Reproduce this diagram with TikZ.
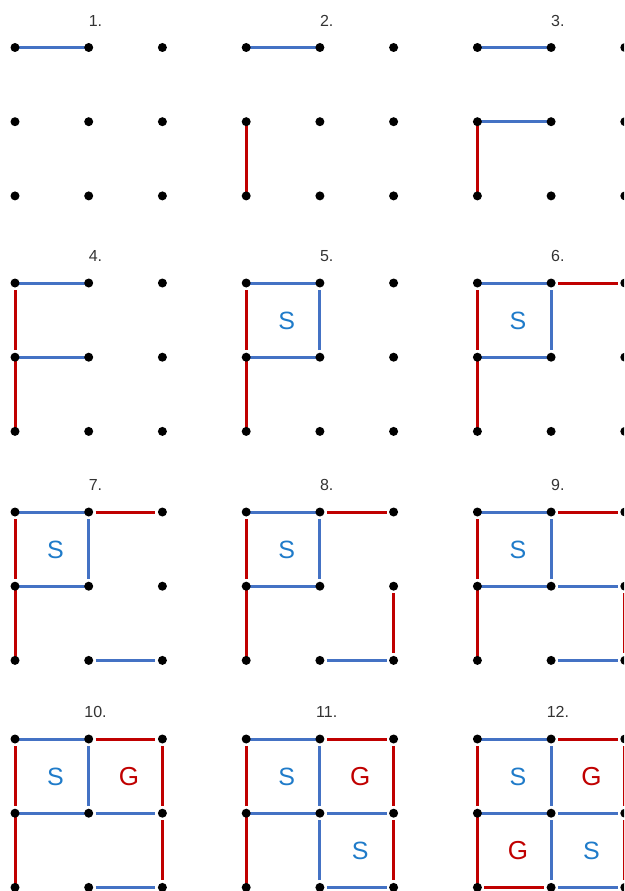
\documentclass[tikz,border=0pt]{standalone}
\usepackage{fontspec}
\setmainfont{Liberation Sans}
\definecolor{lblue}{HTML}{4472C4}
\definecolor{lred}{HTML}{C00000}
\definecolor{sblue}{HTML}{1F7BC9}
\definecolor{lgray}{HTML}{333333}
\newcommand\pedge[4]{\ifnum\k<#1\relax\else\draw[#2] (p\k-#3) -- (p\k-#4);\fi}
\begin{document}
\begin{tikzpicture}[x=1pt,y=-1pt,
  dot/.style={circle,fill=black,inner sep=0pt,minimum size=9pt},
  bfull/.style={draw=lblue,line width=3pt},
  rfull/.style={draw=lred,line width=3pt},
  bshort/.style={bfull,shorten >=7pt,shorten <=7pt},
  rshort/.style={rfull,shorten >=7pt,shorten <=7pt},
  lab/.style={text=lgray,font=\fontsize{16}{18}\selectfont,inner sep=0pt},
  sletter/.style={text=sblue,font=\fontsize{25}{28}\selectfont,inner sep=0pt},
  gletter/.style={text=lred,font=\fontsize{26}{28}\selectfont,inner sep=0pt}]
\useasboundingbox (0,0) rectangle (624,891);
\clip (0,0) rectangle (624,891);
\foreach \k in {1,...,12} {
  \pgfmathtruncatemacro\c{mod(\k-1,3)}
  \pgfmathtruncatemacro\r{div(\k-1,3)}
  \pgfmathsetmacro\xo{15+231.2*\c}
  \pgfmathsetmacro\yo{{47.5,283,512,739}[\r]}
  \foreach \i in {0,1,2} {
    \foreach \j in {0,1,2} {
      \coordinate (p\k-\i\j) at (\xo+73.7*\i, \yo+74.2*\j);
    }
  }
  \node[lab] (lab\k) at (\xo+80.5, \yo-27) {\k.};
  \pedge{1}{bfull}{00}{10}
  \pedge{2}{rfull}{01}{02}
  \pedge{3}{bfull}{01}{11}
  \pedge{4}{rshort}{00}{01}
  \pedge{5}{bshort}{10}{11}
  \pedge{6}{rshort}{10}{20}
  \pedge{7}{bshort}{12}{22}
  \pedge{8}{rshort}{21}{22}
  \pedge{9}{bshort}{11}{21}
  \pedge{10}{rshort}{20}{21}
  \pedge{11}{bshort}{11}{12}
  \pedge{12}{rshort}{02}{12}
  \ifnum\k>4\relax \node[sletter] (sa\k) at (\xo+40.5, \yo+38) {S};\fi
  \ifnum\k>9\relax \node[gletter] (ga\k) at (\xo+114, \yo+38) {G};\fi
  \ifnum\k>10\relax \node[sletter] (sb\k) at (\xo+114, \yo+112) {S};\fi
  \ifnum\k>11\relax \node[gletter] (gb\k) at (\xo+40.5, \yo+112) {G};\fi
  \foreach \i in {0,1,2} {
    \foreach \j in {0,1,2} {
      \node[dot] (d\k-\i\j) at (p\k-\i\j) {};
    }
  }
}
\end{tikzpicture}
\end{document}
